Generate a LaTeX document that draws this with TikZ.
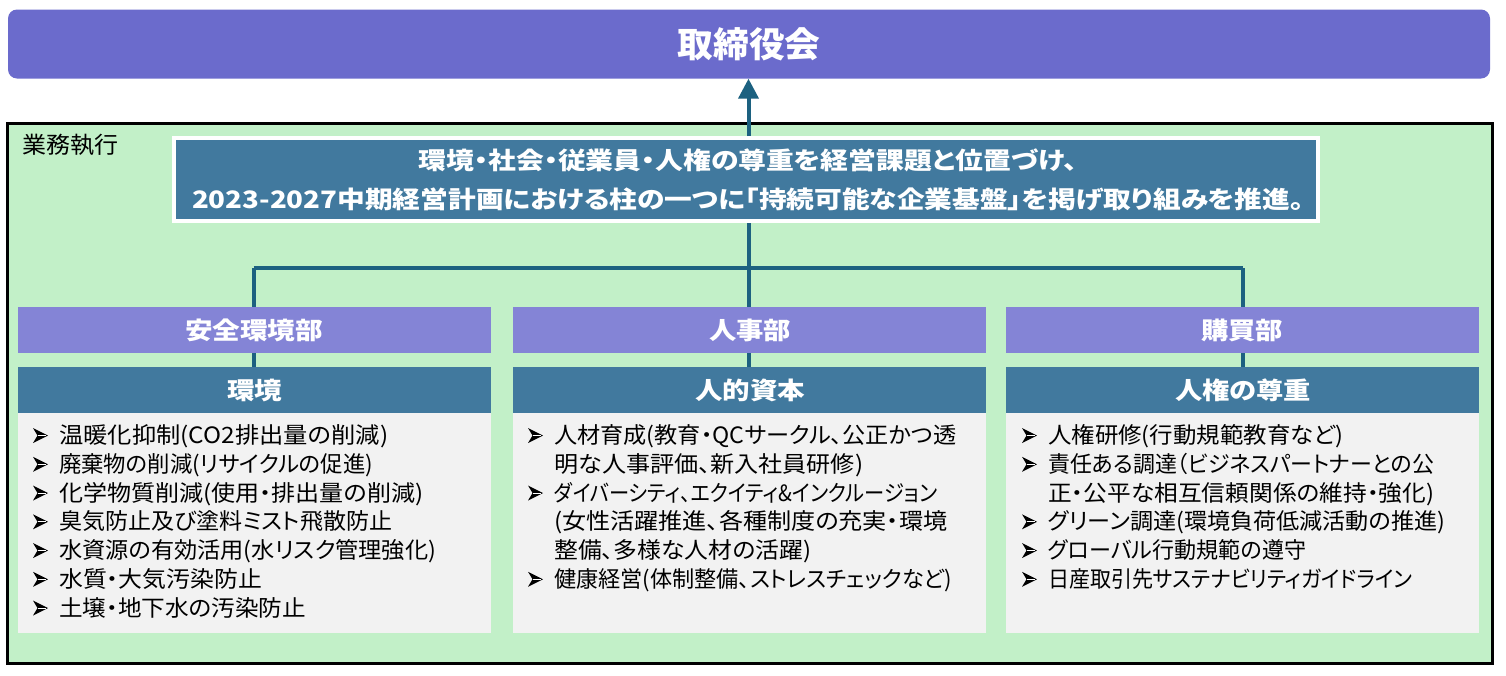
\documentclass[tikz,border=0pt]{standalone}
\usepackage{fontspec}
\usepackage{graphicx}
\usetikzlibrary{arrows.meta}
\setmainfont{Noto Sans CJK JP}[RawFeature=+palt]
\definecolor{boardc}{HTML}{6B6BCC}
\definecolor{depc}{HTML}{8484D6}
\definecolor{themec}{HTML}{41799E}
\definecolor{connc}{HTML}{1C6180}
\definecolor{greenc}{HTML}{C2F0C8}
\definecolor{grayc}{HTML}{F2F2F2}
\newcommand{\fitw}[2]{\resizebox{#1pt}{\height}{#2}}
\tikzset{
  box/.style={inner sep=0pt, outer sep=0pt, minimum width=473pt},
  depbox/.style={box, fill=depc, minimum height=46pt},
  themebox/.style={box, fill=themec, minimum height=46pt},
  listbox/.style={box, fill=grayc, minimum height=220pt},
  boxlabel/.style={inner sep=0pt, text=white, font=\bfseries\fontsize{24}{24}\selectfont},
  conn/.style={draw=connc, line width=4pt},
  itemline/.style={anchor=west, inner sep=0pt, font=\fontsize{22.5}{27}\selectfont, text height=19.8pt, text depth=2.7pt},
  bullet/.pic={\fill[black] (0,-7.5) -- (15,0) -- (0,7.5) -- (4.5,0) -- cycle;
               \draw[white, line width=0.7pt] (4.5,0) -- (13,0);},
}
\begin{document}
\begin{tikzpicture}[x=1pt,y=-1pt]
\useasboundingbox (0,0) rectangle (1506,675);
% board
\node[fill=boardc, rounded corners=9pt, minimum width=1482pt, minimum height=69pt, inner sep=0pt] (board) at (749,44) {};
\node[boxlabel, font=\bfseries\fontsize{35}{35}\selectfont] (boardtext) at (749,44) {\fitw{143}{取締役会}};
% execution frame
\node[draw=black, line width=3pt, fill=greenc, minimum width=1485pt, minimum height=540pt, inner sep=0pt] (exec) at (749.5,393.5) {};
\node[anchor=west, inner sep=0pt, font=\fontsize{23}{23}\selectfont] (execlabel) at (22,144.5) {\fitw{96}{業務執行}};
% header
\node[fill=themec, draw=white, line width=4pt, minimum width=1144pt, minimum height=83pt, inner sep=0pt] (header) at (746,179.5) {};
\node[boxlabel] (headl1) at (748,160.5) {\fitw{658}{環境・社会・従業員・人権の尊重を経営課題と位置づけ、}};
\node[boxlabel] (headl2) at (748,199.5) {\fitw{1112}{2023-2027中期経営計画における柱の一つに「持続可能な企業基盤」を掲げ取り組みを推進。}};
% columns
\node[depbox] (dep1) at (254,330) {};
\node[depbox] (dep2) at (749.5,330) {};
\node[depbox] (dep3) at (1242.5,330) {};
\node[boxlabel] (dep1t) at (254,330.5) {\fitw{138}{安全環境部}};
\node[boxlabel] (dep2t) at (750,330.5) {\fitw{82}{人事部}};
\node[boxlabel] (dep3t) at (1242,330.5) {\fitw{82}{購買部}};
\node[themebox] (th1) at (254,390) {};
\node[themebox] (th2) at (749.5,390) {};
\node[themebox] (th3) at (1242.5,390) {};
\node[boxlabel] (th1t) at (254.5,390.5) {\fitw{55}{環境}};
\node[boxlabel] (th2t) at (750,390.5) {\fitw{110}{人的資本}};
\node[boxlabel] (th3t) at (1243,390.5) {\fitw{136}{人権の尊重}};
\node[listbox, anchor=north] (ls1) at (th1.south) {};
\node[listbox, anchor=north] (ls2) at (th2.south) {};
\node[listbox, anchor=north] (ls3) at (th3.south) {};
% connectors
\coordinate (hub) at (748.5,268);
\draw[conn, -{Triangle[width=20pt,length=20pt]}] (header.north -| hub) -- (board.south -| hub);
\draw[conn] (header.south -| hub) -- (hub);
\coordinate (hl) at (253.5,268);
\coordinate (hr) at (1243,268);
\draw[conn] (hl) -- (hr);
\draw[conn] (hl) -- (hl |- dep1.north);
\draw[conn] (hub) -- (hub |- dep2.north);
\draw[conn] (hr) -- (hr |- dep3.north);
\draw[conn] (dep1.south -| hl) -- (th1.north -| hl);
\draw[conn] (dep2.south -| hub) -- (th2.north -| hub);
\draw[conn] (dep3.south -| hr) -- (th3.north -| hr);
% column 1 list
\pic at (33,435.5) {bullet};
\node[itemline] (t11) at (59,435) {\fitw{329}{温暖化抑制(CO2排出量の削減)}};
\pic at (33,464.25) {bullet};
\node[itemline] (t12) at (59,463.75) {\fitw{314}{廃棄物の削減(リサイクルの促進)}};
\pic at (33,493) {bullet};
\node[itemline] (t13) at (59,492.5) {\fitw{364}{化学物質削減(使用・排出量の削減)}};
\pic at (33,521.75) {bullet};
\node[itemline] (t14) at (59,521.25) {\fitw{333}{臭気防止及び塗料ミスト飛散防止}};
\pic at (33,550.5) {bullet};
\node[itemline] (t15) at (59,550) {\fitw{377}{水資源の有効活用(水リスク管理強化)}};
\pic at (33,579.25) {bullet};
\node[itemline] (t16) at (59,578.75) {\fitw{203}{水質・大気汚染防止}};
\pic at (33,608) {bullet};
\node[itemline] (t17) at (59,607.5) {\fitw{247}{土壌・地下水の汚染防止}};
% column 2 list
\pic at (528,435.5) {bullet};
\node[itemline] (t21) at (554,435) {\fitw{402}{人材育成(教育・QCサークル、公正かつ透}};
\node[itemline] (t22) at (554,463.75) {\fitw{309}{明な人事評価、新入社員研修)}};
\pic at (528,493) {bullet};
\node[itemline] (t23) at (554,492.5) {\fitw{383}{ダイバーシティ、エクイティ\&インクルージョン}};
\node[itemline] (t24) at (554,521.25) {\fitw{393}{(女性活躍推進、各種制度の充実・環境}};
\node[itemline] (t25) at (554,550) {\fitw{257}{整備、多様な人材の活躍)}};
\pic at (528,579.25) {bullet};
\node[itemline] (t26) at (554,578.75) {\fitw{398}{健康経営(体制整備、ストレスチェックなど)}};
% column 3 list
\pic at (1022,435.5) {bullet};
\node[itemline] (t31) at (1048,435) {\fitw{295}{人権研修(行動規範教育など)}};
\pic at (1022,464.25) {bullet};
\node[itemline] (t32) at (1048,463.75) {\fitw{386}{責任ある調達（ビジネスパートナーとの公}};
\node[itemline] (t33) at (1048,492.5) {\fitw{386}{正・公平な相互信頼関係の維持・強化)}};
\pic at (1022,521.75) {bullet};
\node[itemline] (t34) at (1048,521.25) {\fitw{397}{グリーン調達(環境負荷低減活動の推進)}};
\pic at (1022,550.5) {bullet};
\node[itemline] (t35) at (1048,550) {\fitw{258}{グローバル行動規範の遵守}};
\pic at (1022,579.25) {bullet};
\node[itemline] (t36) at (1048,578.75) {\fitw{364}{日産取引先サステナビリティガイドライン}};
\end{tikzpicture}
\end{document}
